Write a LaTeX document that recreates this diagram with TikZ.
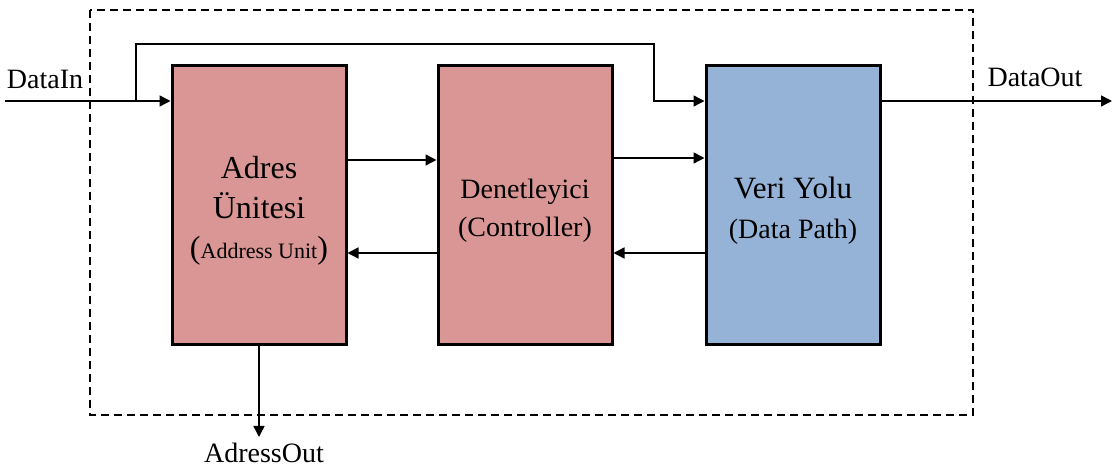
\documentclass[tikz,border=0pt]{standalone}
\usepackage{fontspec}
\setmainfont{Liberation Serif}
\usetikzlibrary{arrows.meta,calc}
\definecolor{redfill}{HTML}{D99694}
\definecolor{bluefill}{HTML}{95B3D7}
\begin{document}
\begin{tikzpicture}[x=0.5pt,y=-0.5pt,
 blockbox/.style={draw,line width=1.5pt,minimum width=87pt,minimum height=139.5pt,inner sep=0pt},
 blocktext/.style={inner sep=0pt,align=center,yshift=-2.7pt},
 conn/.style={line width=0.75pt,-{Triangle[length=5.5pt,width=5.5pt]}},
 lbl/.style={font=\fontsize{14}{16}\selectfont,inner sep=0pt}]
\useasboundingbox (0,0) rectangle (1116,470);
\draw[line width=0.75pt, dash pattern=on 4pt off 2.5pt] (90,10) rectangle (973,415);

\node[blockbox,fill=redfill] (adres) at (259,205.5) {};
\node[blockbox,fill=redfill] (ctrl) at (525,205.5) {};
\node[blockbox,fill=bluefill] (dp) at (793,205.5) {};

\node[blocktext,font=\fontsize{16}{20}\selectfont] (adresT) at (adres.center)
 {Adres\\Ünitesi\\({\fontsize{11}{20}\selectfont Address Unit})};
\node[blocktext,font=\fontsize{14}{19}\selectfont] (ctrlT) at (ctrl.center)
 {Denetleyici\\(Controller)};
\node[blocktext,font=\fontsize{14}{20}\selectfont] (dpT) at (dp.center)
 {{\fontsize{15.5}{20}\selectfont Veri Yolu}\\(Data Path)};

\coordinate (inStart) at (5,101);
\coordinate (branch) at (136,101);
\coordinate (outEnd) at (1112,101);
\coordinate (aoEnd) at (259,437);
\coordinate (yA) at (0,160);
\coordinate (yB) at (0,158);
\coordinate (yC) at (0,253);
\coordinate (yD) at (0,101);
\coordinate (topL) at (136,44);
\coordinate (topR) at (654,44);
\coordinate (downR) at (654,101);

\node[lbl,anchor=base] (datain) at (45,89) {DataIn};
\node[lbl,anchor=base] (dataout) at (1035,87) {DataOut};
\node[lbl,anchor=base] (adrout) at (264,463) {AdressOut};

\draw[conn] (inStart) -- (adres.west |- yD);
\draw[conn] (branch) -- (topL) -- (topR) -- (downR) -- (dp.west |- yD);
\draw[conn] (dp.east |- yD) -- (outEnd);
\draw[conn] (adres.east |- yA) -- (ctrl.west |- yA);
\draw[conn] (ctrl.east |- yB) -- (dp.west |- yB);
\draw[conn] (ctrl.west |- yC) -- (adres.east |- yC);
\draw[conn] (dp.west |- yC) -- (ctrl.east |- yC);
\draw[conn] (adres.south) -- (aoEnd);
\end{tikzpicture}
\end{document}
